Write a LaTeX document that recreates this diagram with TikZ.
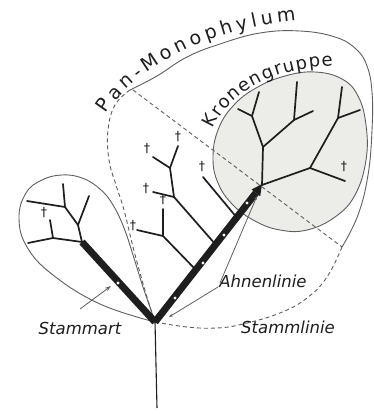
\documentclass[tikz,border=0pt]{standalone}
\usepackage{fontspec}
\setmainfont{DejaVu Sans}
\usetikzlibrary{decorations.text,arrows.meta}
\definecolor{ink}{RGB}{30,30,30}
\definecolor{outl}{RGB}{95,95,95}
\definecolor{crown}{RGB}{236,236,232}
\begin{document}
\begin{tikzpicture}[x=1pt,y=-1pt,
  branch/.style={draw=ink,line width=1.7pt,line cap=round,line join=round},
  outline/.style={draw=outl,line width=0.9pt},
  dashline/.style={draw=outl,line width=0.9pt,dash pattern=on 4pt off 3pt},
  stembar/.style={draw=ink,line width=7pt},
  wdot/.style={fill=white,circle,inner sep=0pt,minimum size=3.2pt},
  dag/.style={font=\fontsize{12.5}{12.5}\selectfont,text=ink,inner sep=0pt},
  lbl/.style={font=\fontsize{16.5}{18}\selectfont\itshape,text=ink,inner sep=0pt},
  pointer/.style={draw=outl,line width=0.8pt}
]
\fill[white] (0,0) rectangle (373,414);
\useasboundingbox (0,0) rectangle (373,414);

% key points
\coordinate (R) at (155,322);
\coordinate (Rend) at (157,408);
\coordinate (Ltop) at (82,242);
\coordinate (Rtop) at (255.9,192.9);
\coordinate (tip) at (262,184);
\coordinate (base) at (262,185);

% crown group area
\filldraw[fill=crown,outline] plot[smooth cycle,tension=0.7] coordinates {(213,158) (218,130) (233,106) (256,88) (285,76) (315,72) (342,79) (358,96) (366,125) (366,160) (355,195) (335,217) (307,230) (280,230) (255,221) (233,205) (218,183)};

% pan-monophylum outline
\draw[outline] plot[smooth,tension=0.7] coordinates {(130,90) (157,76) (187,57) (220,44) (260,33) (300,31) (335,37) (356,49) (367,66) (372,92) (372,130) (368,175) (358,215) (342,247)};
\draw[dashline] plot[smooth,tension=0.7] coordinates {(342,247) (327,277) (307,298) (280,313) (243,324) (217,328) (187,327) (155,322)};
\draw[dashline] plot[smooth,tension=0.7] coordinates {(130,90) (115,105) (108,130) (109,160) (116,185) (124,210) (133,247) (142,280) (150,307) (155,322)};
\draw[dashline] (133,90) -- (342,247);

% leaf envelope (Stammart group)
\draw[outline] plot[smooth,tension=0.7] coordinates {(155,322) (100,304) (53,275) (27,247) (19,218) (26,193) (42,180) (62,175) (82,178) (100,189) (113,205) (124,228) (133,255) (143,287) (151,310) (155,322)};

% stem
\draw[draw=ink,line width=1.1pt] (R) -- (Rend);

% left small tree
\draw[branch] (Ltop) -- (53,238) -- (28,243);
\draw[branch] (53,238) -- (50,220);
\draw[branch] (Ltop) -- (78,225) -- (89,196);
\draw[branch] (78,225) -- (65,207) -- (63,184);
\draw[branch] (65,207) -- (27,201);
\node[dag] (d1) at (44,213) {†};

% middle (stem group) branches
\draw[branch] (216,245) -- (174,197) -- (153,192);
\draw[branch] (174,197) -- (170,168) -- (153,157);
\draw[branch] (170,168) -- (178,146);
\draw[branch] (196,270) -- (163,236) -- (163,209);
\draw[branch] (163,236) -- (137,230);
\draw[branch] (238,219) -- (203,177);
\node[dag] (d2) at (146,189) {†};
\node[dag] (d3) at (147,149) {†};
\node[dag] (d4) at (178,137) {†};
\node[dag] (d5) at (163,200) {†};
\node[dag] (d6) at (133,226) {†};
\node[dag] (d7) at (202,167) {†};

% crown tree
\draw[branch] (base) -- (263,147) -- (252,116) -- (259,92);
\draw[branch] (252,116) -- (238,109);
\draw[branch] (263,147) -- (294,120) -- (297,82);
\draw[branch] (294,120) -- (313,111);
\draw[branch] (base) -- (310,168) -- (345,181);
\draw[branch] (310,168) -- (338,118) -- (342,87);
\draw[branch] (338,118) -- (360,110);
\node[dag] (d8) at (344,167) {†};

% thick lineages
\draw[stembar] (R) -- (Ltop);
\draw[stembar] (R) -- (Rtop);
\fill[ink] (260.2,196.3) -- (tip) -- (251.6,189.5) -- cycle;
\node[wdot] at (118,283) {};
\node[wdot] at (175,298) {};
\node[wdot] at (203,263) {};
\node[wdot] at (224,235) {};
\node[wdot] at (247,203) {};

% labels
\node[lbl] (stammart) at (80,328) {Stammart};
\node[lbl] (ahnen) at (263,281) {Ahnenlinie};
\node[lbl] (stammlinie) at (288,327) {Stammlinie};

\coordinate (sa) at (80,309);
\coordinate (saend) at (111,286);
\draw[pointer,-{Stealth[length=6pt,width=4pt]}] (sa) -- (saend);
\coordinate (ah1) at (220,283);
\coordinate (ah2) at (218,287);
\draw[pointer,-{Stealth[length=4pt,width=3pt]}] (ah1) -- (257,196);
\draw[pointer,-{Stealth[length=4pt,width=3pt]}] (ah2) -- (169,317);

% curved titles
\path[decorate,decoration={text along path,text color=ink,
  text={|\fontsize{19}{19}\selectfont|Pan-Monophylum},text align={fit to path}}]
  (106,114) .. controls (128,78) and (195,30) .. (296,21);
\path[decorate,decoration={text along path,text color=ink,
  text={|\fontsize{18}{18}\selectfont|Kronengruppe},text align={fit to path}}]
  (213,129) .. controls (227,96) and (268,68) .. (333,66);
\end{tikzpicture}
\end{document}
